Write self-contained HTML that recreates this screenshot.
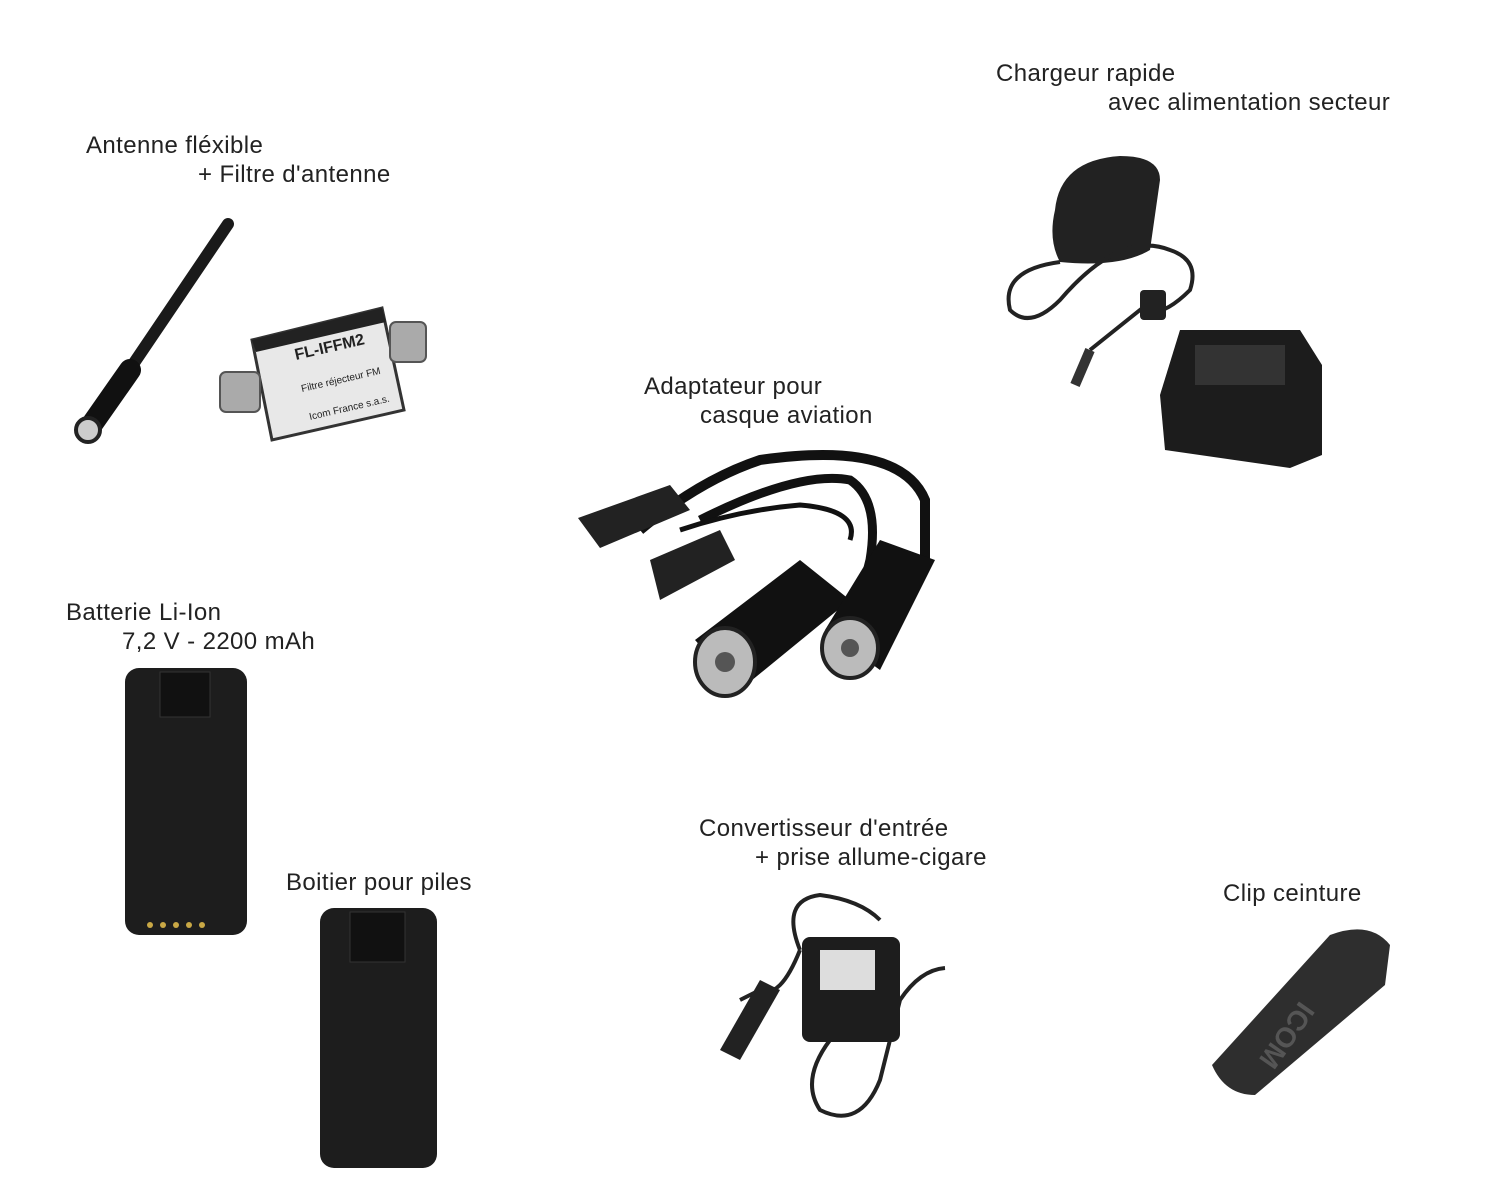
<!DOCTYPE html>
<html><head><meta charset="utf-8"><style>
body{margin:0;width:1500px;height:1200px;background:#fff;position:relative;overflow:hidden;font-family:"Liberation Sans",sans-serif;}
.t{position:absolute;font-size:24px;letter-spacing:0.4px;color:#222;white-space:nowrap;line-height:26px;}
svg{position:absolute;left:0;top:0;}
</style></head><body>
<svg width="1500" height="1200" viewBox="0 0 1500 1200">
<line x1="90" y1="428" x2="228" y2="224" stroke="#1a1a1a" stroke-width="12" stroke-linecap="round"/>
<line x1="88" y1="430" x2="130" y2="370" stroke="#111" stroke-width="22" stroke-linecap="round"/>
<circle cx="88" cy="430" r="12" fill="#ccc" stroke="#222" stroke-width="4"/>
<polygon points="252,340 382,308 404,410 272,440" fill="#e8e8e8" stroke="#333" stroke-width="3"/>
<polygon points="252,340 382,308 386,322 256,352" fill="#222"/>
<rect x="220" y="372" width="40" height="40" rx="6" fill="#aaa" stroke="#555" stroke-width="2"/>
<rect x="390" y="322" width="36" height="40" rx="6" fill="#aaa" stroke="#555" stroke-width="2"/>
<text x="296" y="360" font-family="Liberation Sans" font-size="16" font-weight="bold" fill="#222" transform="rotate(-13 296 360)">FL-IFFM2</text>
<text x="302" y="392" font-family="Liberation Sans" font-size="10" fill="#222" transform="rotate(-13 302 392)">Filtre réjecteur FM</text>
<text x="310" y="420" font-family="Liberation Sans" font-size="10" fill="#222" transform="rotate(-13 310 420)">Icom France s.a.s.</text>
<path d="M1055,210 Q1060,160 1120,156 Q1160,156 1160,180 L1150,250 Q1120,268 1060,262 Q1048,240 1055,210Z" fill="#222"/>
<path d="M1060,262 Q1000,270 1010,310 Q1030,330 1060,300 Q1120,230 1170,250 Q1200,260 1190,290 Q1160,320 1140,310 L1090,350" fill="none" stroke="#222" stroke-width="4"/>
<rect x="1140" y="290" width="26" height="30" rx="4" fill="#222"/>
<line x1="1090" y1="350" x2="1075" y2="385" stroke="#333" stroke-width="10"/>
<path d="M1160,395 L1180,330 L1300,330 L1322,365 L1322,455 L1290,468 L1165,450 Z" fill="#1c1c1c"/>
<rect x="1195" y="345" width="90" height="40" fill="#333"/>
<path d="M640,530 Q700,480 760,460 Q900,440 925,500 L925,560" fill="none" stroke="#111" stroke-width="10"/>
<path d="M700,520 Q800,470 850,480 Q880,500 870,560 L860,600" fill="none" stroke="#111" stroke-width="9"/>
<path d="M680,530 Q740,510 800,505 Q860,510 850,540" fill="none" stroke="#111" stroke-width="5"/>
<polygon points="578,518 670,485 690,510 600,548" fill="#222"/>
<polygon points="650,560 720,530 735,560 660,600" fill="#222"/>
<polygon points="695,640 800,560 850,600 740,690" fill="#111"/>
<ellipse cx="725" cy="662" rx="30" ry="34" fill="#bbb" stroke="#222" stroke-width="4"/>
<circle cx="725" cy="662" r="10" fill="#555"/>
<polygon points="825,630 880,540 935,560 880,670" fill="#111"/>
<ellipse cx="850" cy="648" rx="28" ry="30" fill="#bbb" stroke="#222" stroke-width="4"/>
<circle cx="850" cy="648" r="9" fill="#555"/>
<rect x="125" y="668" width="122" height="267" rx="14" fill="#1d1d1d"/>
<rect x="160" y="672" width="50" height="45" fill="#111" stroke="#333"/>
<g fill="#c9a845"><circle cx="150" cy="925" r="3"/><circle cx="163" cy="925" r="3"/><circle cx="176" cy="925" r="3"/><circle cx="189" cy="925" r="3"/><circle cx="202" cy="925" r="3"/></g>
<rect x="320" y="908" width="117" height="260" rx="14" fill="#1d1d1d"/>
<rect x="350" y="912" width="55" height="50" fill="#111" stroke="#333"/>
<path d="M800,950 Q780,900 820,895 Q860,900 880,920 M830,1040 Q800,1080 820,1110 Q860,1130 880,1080 L900,1000 Q920,970 945,968" fill="none" stroke="#222" stroke-width="4"/>
<path d="M800,950 Q780,1000 760,990 L740,1000" fill="none" stroke="#222" stroke-width="4"/>
<rect x="802" y="937" width="98" height="105" rx="8" fill="#1d1d1d"/>
<rect x="820" y="950" width="55" height="40" fill="#ddd"/>
<polygon points="720,1050 760,980 780,990 740,1060" fill="#222"/>
<path d="M1212,1065 L1330,935 Q1370,920 1390,945 L1385,985 L1255,1095 Q1225,1095 1212,1065Z" fill="#2e2e2e"/>
<text x="1300" y="1000" font-family="Liberation Sans" font-size="28" font-weight="bold" fill="#555" transform="rotate(125 1300 1000)">ICOM</text>
</svg>
<div class="t" style="left:996px;top:61px">Chargeur rapide</div>
<div class="t" style="left:1108px;top:90px">avec alimentation secteur</div>
<div class="t" style="left:86px;top:133px">Antenne fléxible</div>
<div class="t" style="left:198px;top:162px">+ Filtre d'antenne</div>
<div class="t" style="left:644px;top:374px">Adaptateur pour</div>
<div class="t" style="left:700px;top:403px">casque aviation</div>
<div class="t" style="left:66px;top:600px">Batterie Li-Ion</div>
<div class="t" style="left:122px;top:629px">7,2 V - 2200 mAh</div>
<div class="t" style="left:286px;top:870px">Boitier pour piles</div>
<div class="t" style="left:699px;top:816px">Convertisseur d'entrée</div>
<div class="t" style="left:755px;top:845px">+ prise allume-cigare</div>
<div class="t" style="left:1223px;top:881px">Clip ceinture</div>
</body></html>
